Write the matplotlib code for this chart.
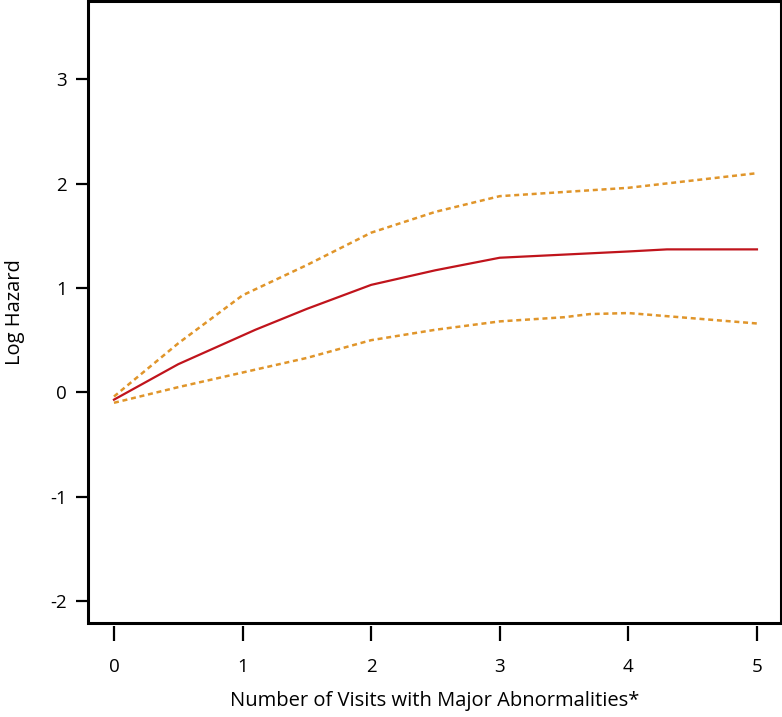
import matplotlib
matplotlib.use("Agg")
import matplotlib.pyplot as plt

# estimated curves
x_mid = [0, 0.5, 1.1, 1.5, 2.0, 2.5, 3.0, 3.5, 4.0, 4.3, 5.0]
y_mid = [-0.07, 0.27, 0.60, 0.80, 1.03, 1.17, 1.29, 1.32, 1.35, 1.37, 1.37]

x_up = [0, 0.5, 1.0, 1.5, 2.0, 2.5, 3.0, 3.5, 4.0, 4.5, 5.0]
y_up = [-0.04, 0.47, 0.93, 1.22, 1.53, 1.73, 1.88, 1.92, 1.96, 2.03, 2.10]

x_lo = [0, 0.5, 1.0, 1.5, 2.0, 2.5, 3.0, 3.5, 3.7, 4.0, 4.5, 5.0]
y_lo = [-0.10, 0.05, 0.19, 0.33, 0.50, 0.60, 0.68, 0.72, 0.75, 0.76, 0.71, 0.66]

xticks = [0, 1, 2, 3, 4, 5]
yticks = [-2, -1, 0, 1, 2, 3]

plt.rcParams['font.family'] = ['Open Sans', 'DejaVu Sans']

fig = plt.figure(figsize=(7.82, 7.17), dpi=100)
ax = fig.add_axes([88 / 782, 1 - 623 / 717, (781 - 88) / 782, (623 - 1) / 717])

orange = '#e0952a'
ax.plot(x_up, y_up, color=orange, lw=1.8, ls=(0, (2, 1.5)))
ax.plot(x_lo, y_lo, color=orange, lw=1.8, ls=(0, (2, 1.5)))
ax.plot(x_mid, y_mid, color='#c0141c', lw=1.6)

ax.set_xlim(-0.202, 5.187)
ax.set_ylim(-2.21, 3.75)
ax.set_xticks(xticks)
ax.set_yticks(yticks)
ax.set_yticklabels([str(v) for v in yticks])

# box drawn by the axes patch, ticks below sit slightly apart from it
for s in ax.spines.values():
    s.set_visible(False)
ax.spines['bottom'].set_position(('outward', 2))
ax.patch.set_edgecolor('black')
ax.patch.set_linewidth(2.2)

ax.tick_params(axis='y', length=9, width=1.6, labelsize=13.5, pad=6)
ax.tick_params(axis='x', length=11, width=1.6, labelsize=13.5, pad=12)

ax.set_ylabel('Log Hazard', fontsize=14.5, labelpad=18)
ax.set_xlabel('Number of Visits with Major Abnormalities*', fontsize=14.5, labelpad=11)

fig.savefig('out.png', dpi=100)
